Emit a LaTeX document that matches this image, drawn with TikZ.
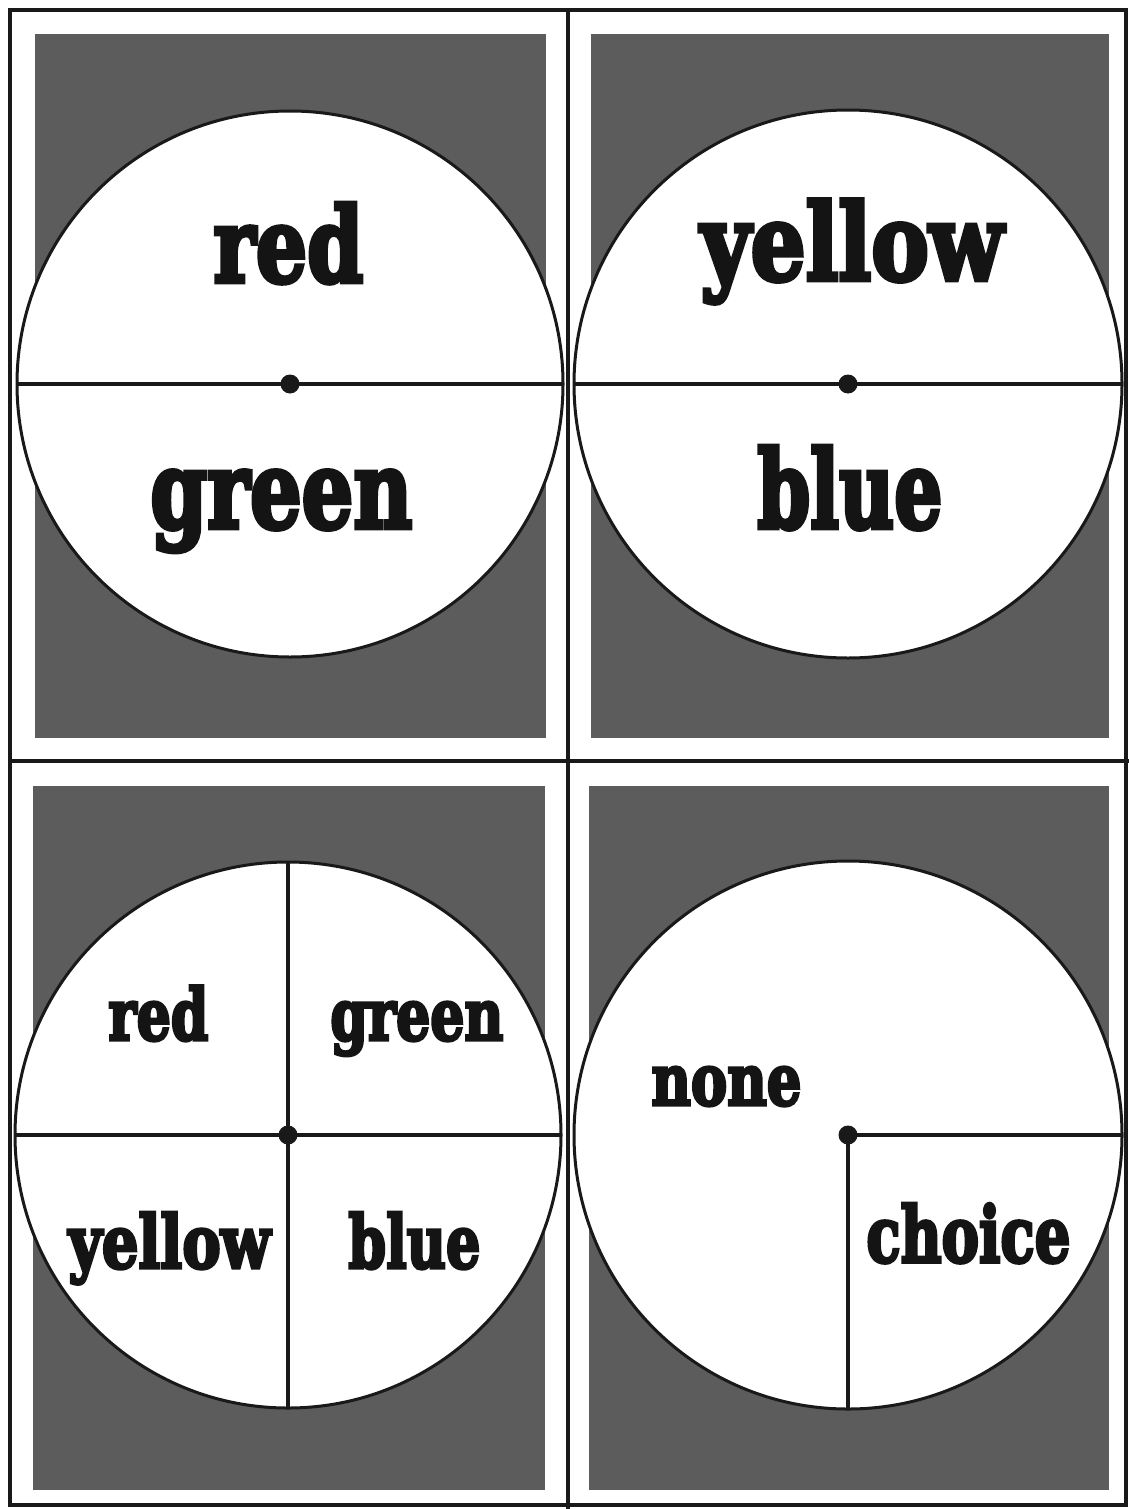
\documentclass[tikz,border=0pt]{standalone}
\usepackage{fontspec}
\usepackage{graphicx}
\newfontfamily\heavyfont[UprightFont=* Bold,FakeBold=4.5]{DejaVu Serif}
\newdimen\pxu
\pxu=0.5pt
\newcommand\lbl[3]{\resizebox{#1\pxu}{#2\pxu}{\heavyfont\raisebox{0pt}[\fontcharht\font`\x][0pt]{#3}}}
\tikzset{
  frameline/.style={line width=1.8pt, black!90},
  panel/.style={fill=black!64, draw=none},
  disc/.style={fill=white, draw=black!90, line width=1.5pt},
  spoke/.style={line width=1.7pt, black!90},
  hub/.style={circle, fill=black!90, inner sep=0pt, minimum size=9.5pt},
  word/.style={inner sep=0pt, anchor=base west, text=black!92}
}
\begin{document}
\begin{tikzpicture}[x=0.5pt,y=-0.5pt]
\useasboundingbox (0,0) rectangle (1129,1509);
\fill[white] (0,0) rectangle (1129,1509);
% outer frame and dividers
\draw[frameline] (10,10) rectangle (1126,1505);
\coordinate (hl) at (10,761); \coordinate (hr) at (1129,761);
\coordinate (vt) at (568,10); \coordinate (vb) at (568,1509);
\draw[frameline] (hl) -- (hr);
\draw[frameline] (vt) -- (vb);
% grey panels
\fill[panel] (35,34) rectangle (546,738);
\fill[panel] (591,34) rectangle (1109,738);
\fill[panel] (33,786) rectangle (545,1490);
\fill[panel] (589,786) rectangle (1109,1490);
% discs
\coordinate (c1) at (290,384);
\coordinate (c2) at (848,384);
\coordinate (c3) at (288,1135);
\coordinate (c4) at (848,1135);
\draw[disc] (c1) circle (273);
\draw[disc] (c2) circle (274);
\draw[disc] (c3) circle (273);
\draw[disc] (c4) circle (274);
% spokes
\draw[spoke] ([xshift=-273*0.5pt]c1) -- ([xshift=273*0.5pt]c1);
\draw[spoke] ([xshift=-274*0.5pt]c2) -- ([xshift=274*0.5pt]c2);
\draw[spoke] ([xshift=-273*0.5pt]c3) -- ([xshift=273*0.5pt]c3);
\draw[spoke] ([yshift=273*0.5pt]c3) -- ([yshift=-273*0.5pt]c3);
\draw[spoke] (c4) -- ([xshift=274*0.5pt]c4);
\draw[spoke] (c4) -- ([yshift=-274*0.5pt]c4);
% hubs
\node[hub] (h1) at (c1) {};
\node[hub] (h2) at (c2) {};
\node[hub] (h3) at (c3) {};
\node[hub] (h4) at (c4) {};
% words
\node[word] (w1) at (213,282) {\lbl{150}{54}{red}};
\node[word] (w2) at (150,528) {\lbl{262}{56}{green}};
\node[word] (w3) at (700,280) {\lbl{303}{55}{yellow}};
\node[word] (w4) at (757,528) {\lbl{185}{56}{blue}};
\node[word] (w5) at (108,1040) {\lbl{100}{37}{red}};
\node[word] (w6) at (330,1040) {\lbl{173}{37}{green}};
\node[word] (w7) at (68,1268) {\lbl{202}{38}{yellow}};
\node[word] (w8) at (348,1268) {\lbl{132}{38}{blue}};
\node[word] (w9) at (651,1105) {\lbl{150}{37}{none}};
\node[word] (w10) at (866,1262) {\lbl{204}{40}{choice}};
\end{tikzpicture}
\end{document}
